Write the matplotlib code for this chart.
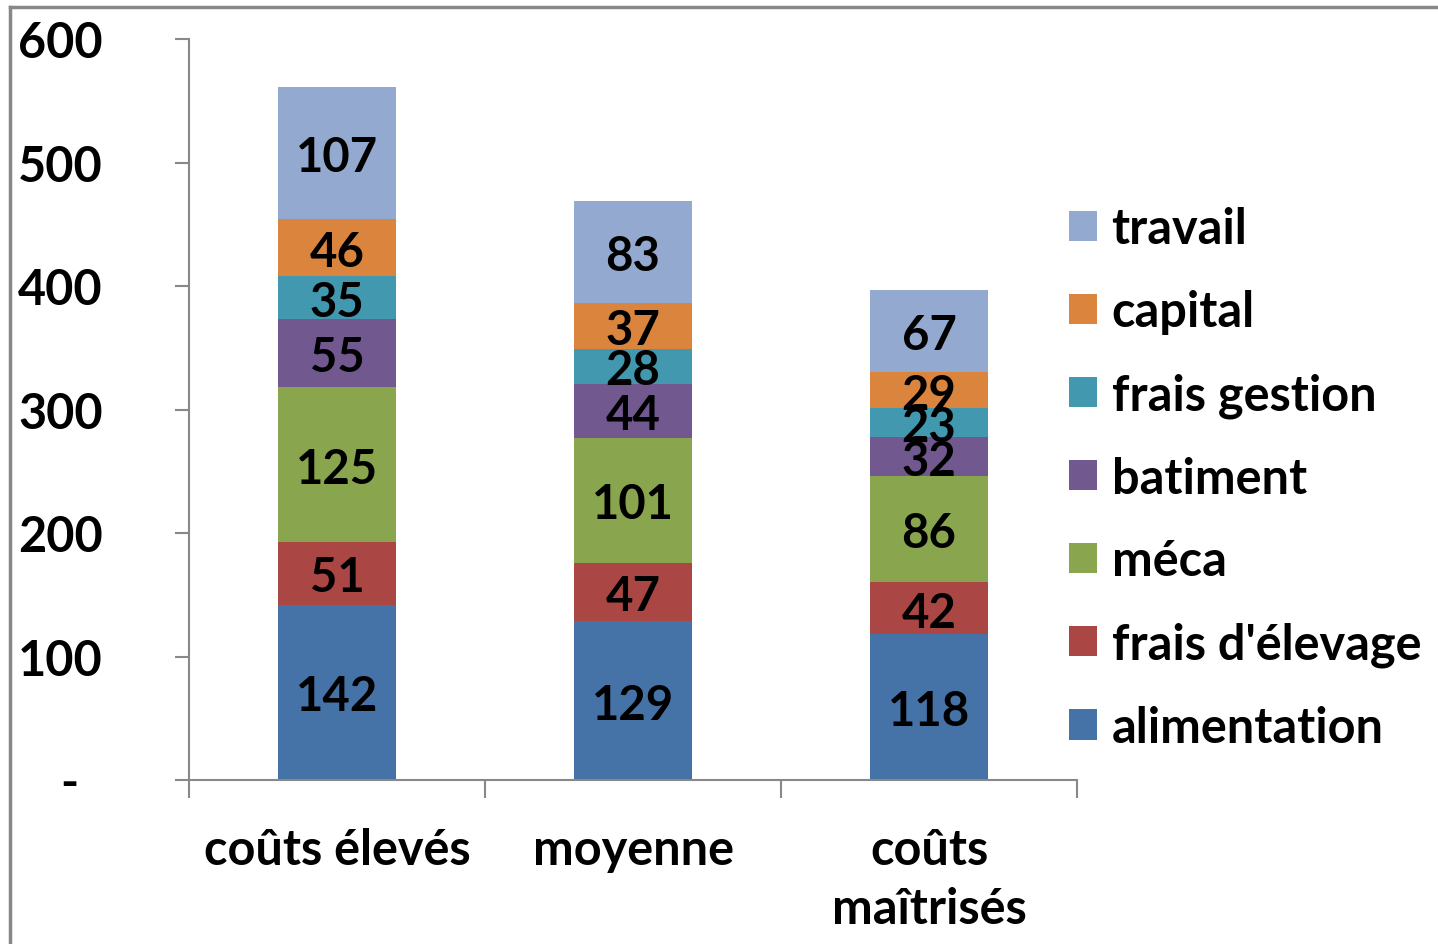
import matplotlib.pyplot as plt
from matplotlib.lines import Line2D
import numpy as np

# données
categories = ["coûts élevés", "moyenne", "coûts\nmaîtrisés"]
postes = ["alimentation", "frais d'élevage", "méca", "batiment", "frais gestion", "capital", "travail"]
alimentation = [142, 129, 118]
frais_elevage = [51, 47, 42]
meca = [125, 101, 86]
batiment = [55, 44, 32]
frais_gestion = [35, 28, 23]
capital = [46, 37, 29]
travail = [107, 83, 67]
yticks = [0, 100, 200, 300, 400, 500, 600]
ytick_labels = ["-  ", "100", "200", "300", "400", "500", "600"]

series = [alimentation, frais_elevage, meca, batiment, frais_gestion, capital, travail]
colors = ["#4572A7", "#AA4643", "#89A54E", "#71588F", "#4198AF", "#DB843D", "#93A9CF"]

plt.rcParams['font.family'] = ['Lato', 'DejaVu Sans']
plt.rcParams['font.weight'] = 'bold'
fs = 35

fig = plt.figure(figsize=(14.38, 9.45), dpi=100)
ax = fig.add_axes([189/1438, 1-781/945, (1077-189)/1438, (781-40)/945])

x = np.arange(len(categories))
bottom = np.zeros(len(categories))
handles = []
for nom, vals, col in zip(postes, series, colors):
    bars = ax.bar(x, vals, width=0.40, bottom=bottom, color=col, label=nom)
    # étiquettes au milieu de chaque segment
    for xi, b, v in zip(x, bottom, vals):
        ax.annotate(str(v), (xi, b + v / 2), xytext=(0, -3), textcoords='offset points',
                    ha='center', va='center', fontsize=34, fontweight='bold', color='black')
    bottom += np.array(vals)
    handles.append(bars)

ax.set_xlim(-0.5, 2.5)
ax.set_ylim(0, 600)
ax.set_yticks(yticks)
ax.set_yticklabels(ytick_labels, fontsize=fs, fontweight='bold')
ax.set_xticks(x)
ax.set_xticklabels(categories, fontsize=fs, fontweight='bold', linespacing=1.38)
ax.tick_params(axis='y', length=10, color='#888888', width=1.5, pad=52)
ax.tick_params(axis='x', length=0, pad=34)
# petits traits entre catégories
ax.set_xticks([-0.5, 0.5, 1.5, 2.5], minor=True)
ax.tick_params(axis='x', which='minor', length=13, color='#888888', width=1.5, direction='out')

for s in ['top', 'right']:
    ax.spines[s].set_visible(False)
for s in ['left', 'bottom']:
    ax.spines[s].set_color('#888888')
    ax.spines[s].set_linewidth(1.5)

leg = fig.legend(handles[::-1], postes[::-1], loc='center left',
                 bbox_to_anchor=(1025/1438, 1-479/945), frameon=False,
                 fontsize=fs, handlelength=0.58, handleheight=0.58,
                 handletextpad=0.3, labelspacing=0.78)

# cadre gris (coin haut gauche)
fig.add_artist(Line2D([10/1438, 10/1438], [0, 1-8/945], color='#888888', lw=2.5))
fig.add_artist(Line2D([10/1438, 1], [1-8/945, 1-8/945], color='#888888', lw=2.5))

fig.savefig('out.png', dpi=100)
